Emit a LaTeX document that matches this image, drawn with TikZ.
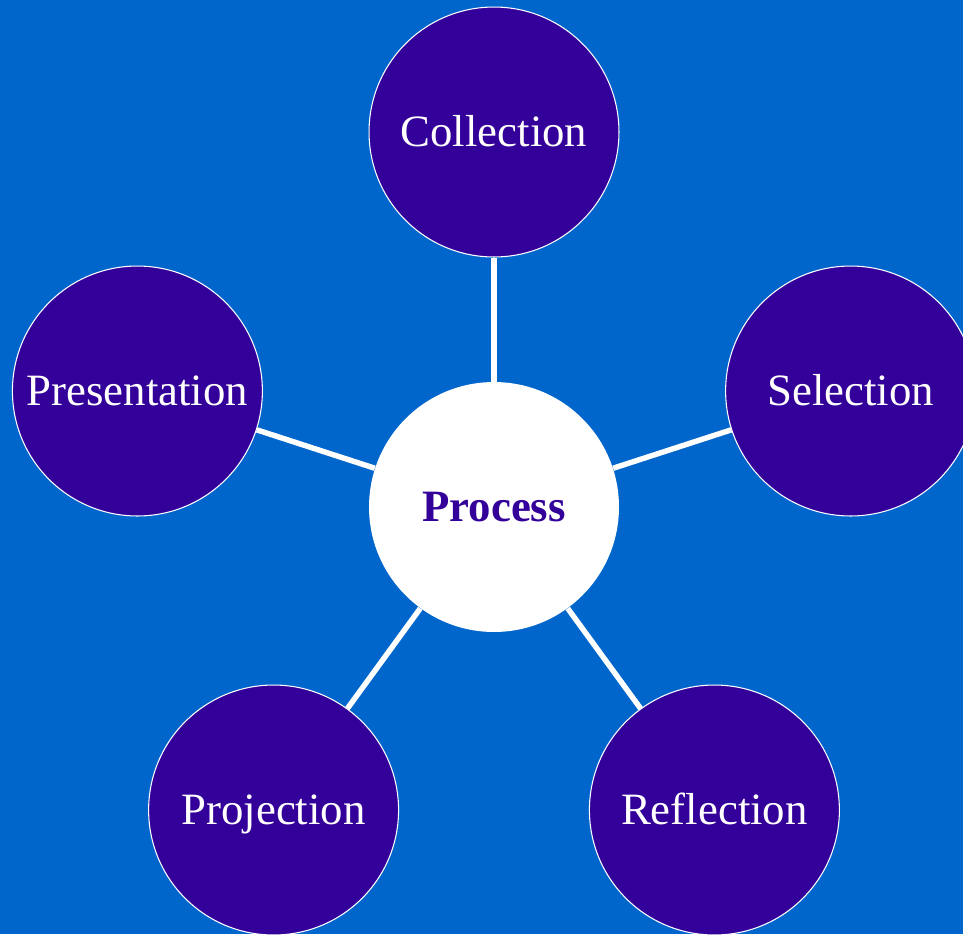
\documentclass[tikz,border=0pt]{standalone}
\usepackage{fontspec}
\setmainfont{Liberation Serif}
\definecolor{bgblue}{HTML}{0066CC}
\definecolor{deeppurple}{HTML}{330099}

\begin{document}
\begin{tikzpicture}[x=0.02cm, y=-0.02cm,
  stage/.style={circle, fill=deeppurple, draw=white, line width=0.6pt,
    minimum size=5cm, inner sep=0pt, text height=16.9pt, text depth=0pt,
    text=white, font=\fontsize{25.5}{30}\selectfont},
  hub/.style={circle, fill=white, minimum size=5cm, inner sep=0pt,
    text height=16.9pt, text depth=0pt,
    text=deeppurple, font=\fontsize{25.5}{30}\selectfont\bfseries},
  spoke/.style={white, line width=3.1pt}]

% Background
\fill[bgblue] (0,0) rectangle (963,934);
\useasboundingbox (0,0) rectangle (963,934);

% Centre circle
\node[hub] (process) at (494,507) {Process};

% Outer circles, 72 degrees apart
\node[stage] (collection)   at (494,132)   {Collection};
\node[stage] (selection)    at (850.6,391) {Selection};
\node[stage] (reflection)   at (714.4,810) {Reflection};
\node[stage] (projection)   at (273.6,810) {Projection};
\node[stage] (presentation) at (137.4,391) {Presentation};

% Spokes
\foreach \s in {collection, selection, reflection, projection, presentation}
  \draw[spoke] (process) -- (\s);

\end{tikzpicture}
\end{document}
